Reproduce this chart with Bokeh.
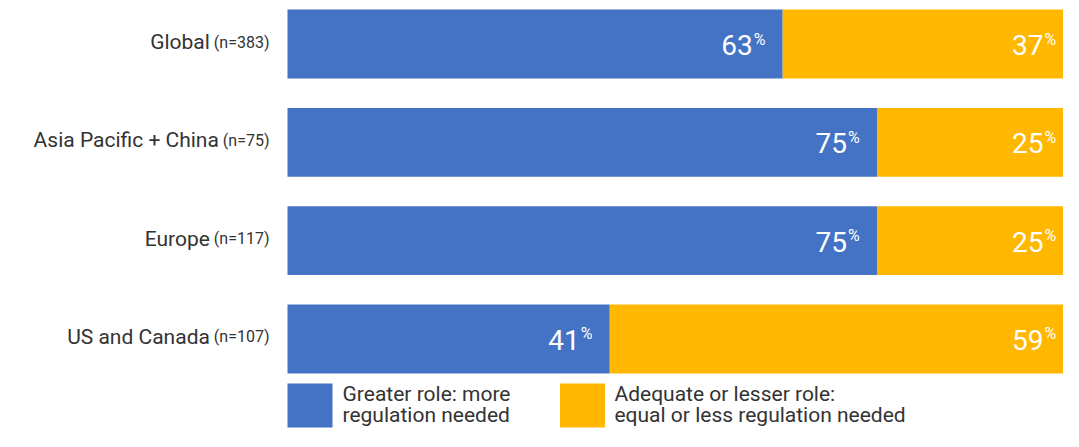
from bokeh.plotting import figure
from bokeh.models import ColumnDataSource, Range1d
from bokeh.core.properties import value
from bokeh.embed import file_html
from bokeh.resources import INLINE

# ---- data ----
regions = ["Global", "Asia Pacific + China", "Europe", "US and Canada"]
sample_sizes = ["(n=383)", "(n=75)", "(n=117)", "(n=107)"]
greater_role = [63, 75, 75, 41]
adequate_role = [37, 25, 25, 59]
legend_line1 = ["Greater role: more", "Adequate or lesser role:"]
legend_line2 = ["regulation needed", "equal or less regulation needed"]

BLUE = "#4472C4"
ORANGE = "#FFB700"
DARK = "#333333"
FONT = value("Roboto")

idx = list(range(len(regions)))
ends_blue = greater_role
ends_orange = [g + a for g, a in zip(greater_role, adequate_role)]

src = ColumnDataSource(dict(
    y=idx,
    end_b=ends_blue,
    end_o=ends_orange,
    g_txt=[str(v) for v in greater_role],
    a_txt=[str(v) for v in adequate_role],
    pct=["%"] * len(idx),
))

W, H = 1063, 431
px_per_pct = 7.86
x_start = -287 / px_per_pct
x_end = x_start + W / px_per_pct
row_px = 98.33
y_top = -43.5 / row_px
y_bottom = (H - 43.5) / row_px
BASE_FIX = -9  # correction for svg text baseline

p = figure(width=W, height=H, output_backend="svg", toolbar_location=None,
           x_range=Range1d(x_start, x_end), y_range=Range1d(y_bottom, y_top),
           min_border=0, min_border_left=0, min_border_right=0,
           min_border_top=0, min_border_bottom=0)
p.axis.visible = False
p.grid.visible = False
p.outline_line_color = None
p.background_fill_color = "white"
p.border_fill_color = "white"

p.hbar(y="y", left=0, right="end_b", height=0.70, source=src,
       fill_color=BLUE, line_color=None)
p.hbar(y="y", left="end_b", right="end_o", height=0.70, source=src,
       fill_color=ORANGE, line_color=None)

# value labels
for endcol, txtcol in (("end_b", "g_txt"), ("end_o", "a_txt")):
    p.text(x=endcol, y="y", text=txtcol, source=src, text_align="right",
           text_baseline="alphabetic", x_offset=-30, y_offset=10 + BASE_FIX,
           text_font=FONT, text_font_size="28px", text_color="white")
    p.text(x=endcol, y="y", text="pct", source=src, text_align="left",
           text_baseline="alphabetic", x_offset=-29, y_offset=4 + BASE_FIX,
           text_font=FONT, text_font_size="16px", text_color="white")

# category labels
CHAR_W = {'(': 0.342, ')': 0.348, 'n': 0.552, '=': 0.549, ' ': 0.248}
def width_px(s, size):
    return sum(CHAR_W.get(c, 0.5615) for c in s) * size

for i, (r, n) in enumerate(zip(regions, sample_sizes)):
    nw = width_px(n, 16)
    p.text(x=[0], y=[i], text=[n], text_align="right", text_baseline="alphabetic",
           x_offset=-18, y_offset=7 + BASE_FIX, text_font=FONT,
           text_font_size="16px", text_color=DARK)
    p.text(x=[0], y=[i], text=[r], text_align="right", text_baseline="alphabetic",
           x_offset=-(18 + nw + 4), y_offset=7 + BASE_FIX, text_font=FONT,
           text_font_size="21px", text_color=DARK)

# legend
leg_y = (405 - 43.5) / row_px
leg_box_x = [0, 34.73]
leg_box_w = [45 / px_per_pct, 44 / px_per_pct]
leg_text_x = [7.0, 41.6]
for k, col in enumerate((BLUE, ORANGE)):
    p.rect(x=[leg_box_x[k] + leg_box_w[k] / 2], y=[leg_y], width=[45],
           height=[44], width_units="screen", height_units="screen",
           fill_color=col, line_color=None)
    p.text(x=[leg_text_x[k]], y=[leg_y], text=[legend_line1[k]],
           text_align="left", text_baseline="alphabetic", y_offset=-3 + BASE_FIX,
           text_font=FONT, text_font_size="21px", text_color=DARK)
    p.text(x=[leg_text_x[k]], y=[leg_y], text=[legend_line2[k]],
           text_align="left", text_baseline="alphabetic", y_offset=18 + BASE_FIX,
           text_font=FONT, text_font_size="21px", text_color=DARK)

open("out.html", "w").write(file_html(p, INLINE))
